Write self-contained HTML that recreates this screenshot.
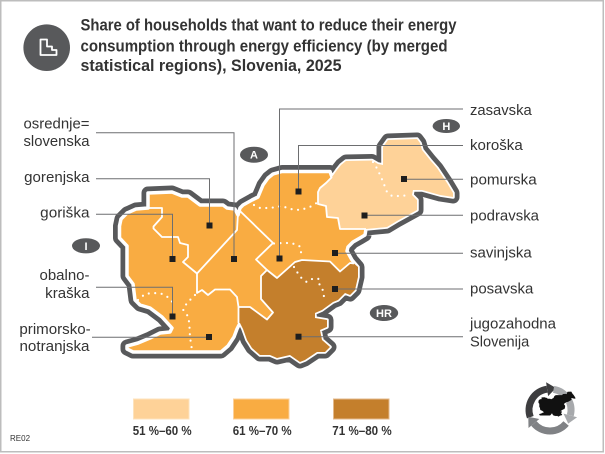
<!DOCTYPE html>
<html><head><meta charset="utf-8"><style>
html,body{margin:0;padding:0;background:#fff;}
svg{display:block;}
text{font-family:"Liberation Sans",Arial,sans-serif;}
</style></head><body>
<svg width="605" height="454" viewBox="0 0 605 454" xmlns="http://www.w3.org/2000/svg">
<rect x="0.75" y="0.75" width="602.5" height="451" fill="#fff" stroke="#bdbdbd" stroke-width="1.5"/>

<!-- title icon -->
<circle cx="46.7" cy="47.7" r="23.3" fill="#58595b"/>
<path d="M40.5,39.5 H47 V46.5 H52 V50 H56.5 V55 H40.5 Z" fill="none" stroke="#fff" stroke-width="1.8" stroke-linejoin="round"/>

<!-- title -->
<g font-weight="bold" font-size="17" fill="#333">
<text x="80.5" y="30.7" textLength="376" lengthAdjust="spacingAndGlyphs">Share of households that want to reduce their energy</text>
<text x="80.5" y="51.5" textLength="367" lengthAdjust="spacingAndGlyphs">consumption through energy efficiency (by merged</text>
<text x="80.5" y="71" textLength="261" lengthAdjust="spacingAndGlyphs">statistical regions), Slovenia, 2025</text>
</g>

<!-- map -->
<g id="map">
<path id="outline" d="M148,193 L172,192 L182,196 L188,196 L200,205 L223,205 L227,208 L235,209 L238,215 L240,208 L243,205 L252,200 L258,197 L263,185 L268,178 L273,174 L282,171.5 L330,171.5 L332,177 L337,170 L341,165 L346,161 L372,160.5 L378,164 L383,165 L383,147 L388,140 L417,139 L420,143 L422,150 L430,160 L437,168 L447,183 L453,193 L453,197 L440,195 L422,190 L413,190 L412,195 L417,200 L417,210 L397,221 L387,227 L366,229 L365,235 L360,238 L353,242 L348,247 L347,251 L352,260 L358,267 L358,277 L355,290 L350,295 L345,293 L338,300 L333,302 L322,310 L315,313 L315,318 L327,320 L327,327 L320,330 L322,340 L330,347 L325,352 L317,352 L305,360 L300,362 L290,355 L277,358 L270,355 L260,355 L252,348 L247,340 L243,329 L240,323 L237,329 L234,337 L228,346 L221,352 L133,352 L127,349 L127,346 L138,343 L150,338 L160,333 L170,332 L172,328 L162,317 L150,308 L140,305 L135,300 L133,284 L127,276 L127,246 L119.5,238 L119.5,226 L121,219 L127,213 L136,209 L148,208 Z" fill="none" stroke="#58595b" stroke-width="13" stroke-linejoin="round"/>
<path d="M148,193 L172,192 L182,196 L188,196 L200,205 L223,205 L227,208 L235,209 L238,215 L240,208 L243,205 L252,200 L258,197 L263,185 L268,178 L273,174 L282,171.5 L330,171.5 L332,177 L337,170 L341,165 L346,161 L372,160.5 L378,164 L383,165 L383,147 L388,140 L417,139 L420,143 L422,150 L430,160 L437,168 L447,183 L453,193 L453,197 L440,195 L422,190 L413,190 L412,195 L417,200 L417,210 L397,221 L387,227 L366,229 L365,235 L360,238 L353,242 L348,247 L347,251 L352,260 L358,267 L358,277 L355,290 L350,295 L345,293 L338,300 L333,302 L322,310 L315,313 L315,318 L327,320 L327,327 L320,330 L322,340 L330,347 L325,352 L317,352 L305,360 L300,362 L290,355 L277,358 L270,355 L260,355 L252,348 L247,340 L243,329 L240,323 L237,329 L234,337 L228,346 L221,352 L133,352 L127,349 L127,346 L138,343 L150,338 L160,333 L170,332 L172,328 L162,317 L150,308 L140,305 L135,300 L133,284 L127,276 L127,246 L119.5,238 L119.5,226 L121,219 L127,213 L136,209 L148,208 Z" fill="#f9ac42" stroke="#fff" stroke-width="3.5" stroke-linejoin="round"/>

<!-- light region -->
<path d="M332,177 L337,170 L341,165 L346,161 L372,160.5 L378,164 L383,165 L383,147 L388,140 L417,139 L420,143 L422,150 L430,160 L437,168 L447,183 L453,193 L453,197 L440,195 L422,190 L413,190 L412,195 L417,200 L417,210 L397,221 L387,227 L366,229 L340,229 L338,218 L327,217 L326,206 L318,204 L318,192 L320,188 L326,183 Z" fill="#fed298"/>
<!-- dark region -->
<path d="M238.5,307 L250,307 L267,319.5 L273,312.5 L261,299 L261,276 L267,270 L277,278 L286,270 L295,262 L302,260 L330,261.5 L340,271.5 L350,263 L354,263.5 L358,267 L358,277 L355,290 L350,295 L345,293 L338,300 L333,302 L322,310 L315,313 L315,318 L327,320 L327,327 L320,330 L322,340 L330,347 L325,352 L317,352 L305,360 L300,362 L290,355 L277,358 L270,355 L260,355 L252,348 L247,340 L243,329 L240,323 L238.5,323 Z" fill="#c47f2c"/>

<!-- internal borders -->
<g fill="none" stroke="#fff" stroke-width="1.8" stroke-linejoin="round">
<path d="M148,208 L162,208 L162,217 L153.5,226.5 L153.5,228.5 L162,237 L178,237 L180,243 L188,245 L188,257 L183,262 L197,273.5 L197,293 L202,290 L208,295 L215,289.5 L230,289.5 L237,297 L238.5,307 L238.5,323"/>
<path d="M197,273.5 L237,230 L238,213"/>
<path d="M240,211 L273,243 L256,259.5 L267,270"/>
<path d="M332,177 L326,183 L320,188 L318,192 L318,204 L326,206 L327,217 L338,218 L340,229 L366,229"/>
<path d="M238.5,307 L250,307 L267,319.5 L273,312.5 L261,299 L261,276 L267,270 L277,278 L286,270 L295,262 L302,260 L330,261.5 L340,271.5 L350,263 L354,263.5"/>
</g>
<!-- dotted borders -->
<g fill="none" stroke="#fff" stroke-width="2.2" stroke-linecap="round" stroke-dasharray="0 6.5">
<path d="M254,205 L260,208 L270,208 L282,206 L290,209 L300,210 L307,208 L312,206 L318,202"/>
<path d="M274,243.5 L282,243 L289,243 L295,244 L300,246.5 L301,251 L301,258"/>
<path d="M373,162 L378,170 L380,175 L383,181.5 L385,187 L387,192 L392,196 L400,196 L410,195"/>
<path d="M294,267 L300,276.7 L306.7,282 L313,278.5 L319.5,279 L319.5,285.5 L323.5,291 L324,298"/>
<path d="M138,300 L145,294 L153,293 L161,293.5 L167,296.5 L172.5,302"/>
<path d="M195,295 L187,303 L183,309.5 L188.5,317 L189.5,327 L190,337 L192,350"/>
</g>
</g>

<!-- leader lines -->
<g fill="none" stroke="#6d6e70" stroke-width="1">
<path d="M96,132.7 H234 V259"/>
<path d="M96,178.7 H209.5 V225.5"/>
<path d="M96,214.3 H172.5 V259"/>
<path d="M96,287.3 H172.5 V316.5"/>
<path d="M92,337.2 H209"/>
<path d="M463,109 H279.5 V258.5"/>
<path d="M463,145.5 H298.5 V191.5"/>
<path d="M463,179.3 H404"/>
<path d="M463,215.3 H364.5"/>
<path d="M463,253.3 H335"/>
<path d="M463,289 H335"/>
<path d="M463,336.8 H298.5"/>
</g>
<!-- markers -->
<g fill="#1e1e1e">
<rect x="231" y="256" width="6" height="6"/>
<rect x="206.5" y="222.5" width="6" height="6"/>
<rect x="169.5" y="256" width="6" height="6"/>
<rect x="169.5" y="313.5" width="6" height="6"/>
<rect x="206" y="334" width="6" height="6"/>
<rect x="276.5" y="255.5" width="6" height="6"/>
<rect x="295.5" y="188.5" width="6" height="6"/>
<rect x="401" y="176" width="6" height="6"/>
<rect x="361.5" y="212.5" width="6" height="6"/>
<rect x="332" y="250" width="6" height="6"/>
<rect x="332" y="286" width="6" height="6"/>
<rect x="295.5" y="333.7" width="6" height="6"/>
</g>

<!-- country ovals -->
<g fill="#58595b">
<ellipse cx="254" cy="154.7" rx="14" ry="8"/>
<ellipse cx="446.3" cy="126" rx="13.7" ry="7"/>
<ellipse cx="86" cy="245.8" rx="14" ry="7.6"/>
<ellipse cx="384" cy="313" rx="14.2" ry="8"/>
</g>
<g fill="#fff" font-weight="bold" font-size="11" text-anchor="middle">
<text x="254" y="158.7">A</text>
<text x="446.3" y="130">H</text>
<text x="86" y="249.8">I</text>
<text x="384" y="317">HR</text>
</g>

<!-- left labels -->
<g font-size="15" fill="#333" text-anchor="end">
<text x="89.5" y="128.5" textLength="66" lengthAdjust="spacingAndGlyphs">osrednje=</text>
<text x="89.5" y="146" textLength="66" lengthAdjust="spacingAndGlyphs">slovenska</text>
<text x="89.5" y="182" textLength="65.3" lengthAdjust="spacingAndGlyphs">gorenjska</text>
<text x="89.5" y="217.5" textLength="49.3" lengthAdjust="spacingAndGlyphs">goriška</text>
<text x="89.5" y="280" textLength="50" lengthAdjust="spacingAndGlyphs">obalno-</text>
<text x="89.5" y="298" textLength="44.3" lengthAdjust="spacingAndGlyphs">kraška</text>
<text x="90.7" y="334" textLength="71.3" lengthAdjust="spacingAndGlyphs">primorsko-</text>
<text x="89.5" y="351" textLength="70" lengthAdjust="spacingAndGlyphs">notranjska</text>
</g>
<!-- right labels -->
<g font-size="15" fill="#333">
<text x="470" y="115" textLength="61.7" lengthAdjust="spacingAndGlyphs">zasavska</text>
<text x="470" y="150" textLength="52.7" lengthAdjust="spacingAndGlyphs">koroška</text>
<text x="470" y="184.3" textLength="66.7" lengthAdjust="spacingAndGlyphs">pomurska</text>
<text x="470" y="220.7" textLength="69" lengthAdjust="spacingAndGlyphs">podravska</text>
<text x="470" y="257.7" textLength="61.7" lengthAdjust="spacingAndGlyphs">savinjska</text>
<text x="470" y="293.3" textLength="63.3" lengthAdjust="spacingAndGlyphs">posavska</text>
<text x="470" y="328.3" textLength="86" lengthAdjust="spacingAndGlyphs">jugozahodna</text>
<text x="470" y="346.5" textLength="59.3" lengthAdjust="spacingAndGlyphs">Slovenija</text>
</g>

<!-- legend -->
<rect x="133.5" y="399" width="55.5" height="20" fill="#fed298" stroke="#fde3bd" stroke-width="1"/>
<rect x="233.5" y="399" width="55.5" height="20" fill="#f9ac42" stroke="#fcd09a" stroke-width="1"/>
<rect x="333.5" y="399" width="55.5" height="20" fill="#c47f2c" stroke="#e3b98b" stroke-width="1"/>
<g font-weight="bold" font-size="12.5" fill="#333">
<text x="132.7" y="435" textLength="59" lengthAdjust="spacingAndGlyphs">51 %–60 %</text>
<text x="232.7" y="435" textLength="59" lengthAdjust="spacingAndGlyphs">61 %–70 %</text>
<text x="332.3" y="435" textLength="59.4" lengthAdjust="spacingAndGlyphs">71 %–80 %</text>
</g>

<text x="10" y="441" font-size="8" fill="#333">RE02</text>

<!-- logo -->
<g>
<path d="M530.3,417.2 A21,21 0 0 1 547.1,389.2" fill="none" stroke="#3d3d3f" stroke-width="7"/>
<polygon points="546.1,382.3 548.1,396.1 556,388" fill="#3d3d3f"/>
<path d="M553.6,389.3 A21,21 0 0 1 570.3,415.4" fill="none" stroke="#a7a9ac" stroke-width="7"/>
<polygon points="577.1,417.2 563.5,413.6 568.2,423.6" fill="#a7a9ac"/>
<path d="M566.1,423.5 A21,21 0 0 1 533.9,423.5" fill="none" stroke="#808285" stroke-width="7"/>
<polygon points="528.5,428 539.3,419 528.3,416.8" fill="#808285"/>
<path transform="translate(526,377) scale(0.108)" d="M148,193 L172,192 L182,196 L188,196 L200,205 L223,205 L227,208 L235,209 L240,208 L243,205 L252,200 L258,197 L263,185 L268,178 L273,174 L282,171.5 L330,171.5 L337,170 L341,165 L346,161 L372,160.5 L378,164 L383,165 L383,147 L388,140 L417,139 L420,143 L422,150 L430,160 L437,168 L447,183 L453,193 L453,197 L440,195 L422,190 L413,190 L412,195 L417,200 L417,210 L397,221 L387,227 L366,229 L365,235 L360,238 L353,242 L348,247 L347,251 L352,260 L358,267 L358,277 L355,290 L350,295 L345,293 L338,300 L333,302 L322,310 L315,313 L315,318 L327,320 L327,327 L320,330 L322,340 L330,347 L325,352 L317,352 L305,360 L300,362 L290,355 L277,358 L270,355 L260,355 L252,348 L247,340 L243,329 L234,337 L228,346 L221,352 L133,352 L127,349 L127,346 L138,343 L150,338 L160,333 L170,332 L172,328 L162,317 L150,308 L140,305 L135,300 L133,284 L127,276 L127,246 L119.5,238 L119.5,226 L121,219 L127,213 L136,209 L148,208 Z" fill="#111" stroke="#111" stroke-width="8"/>
</g>
</svg>
</body></html>
